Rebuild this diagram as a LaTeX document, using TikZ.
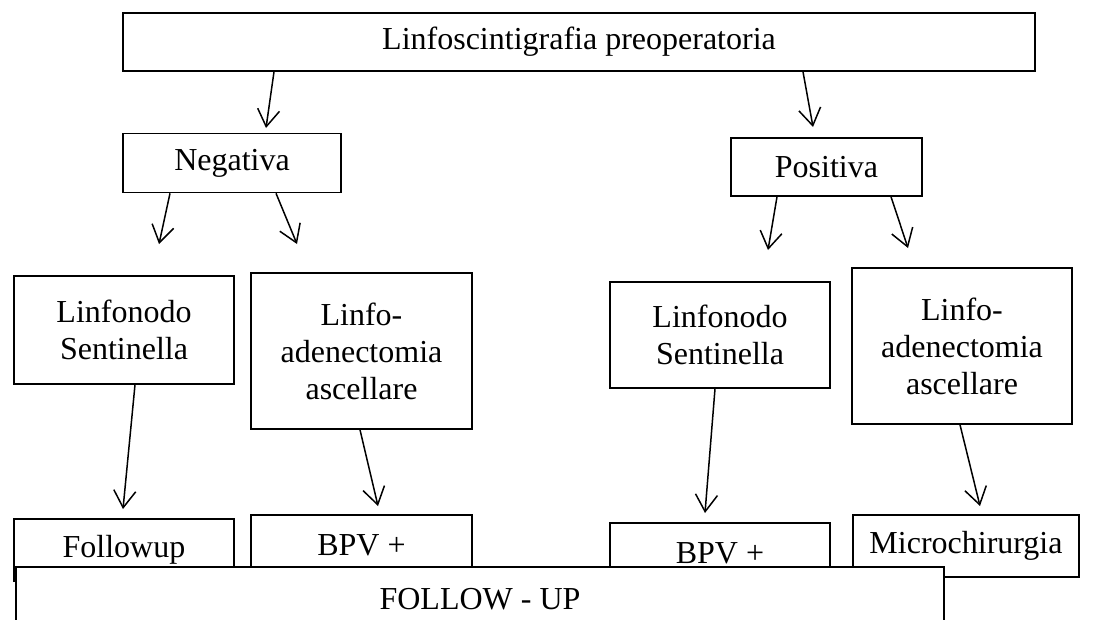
\documentclass[tikz,border=0pt]{standalone}
\usepackage{fontspec}
\setmainfont{Liberation Serif}
\usetikzlibrary{arrows.meta}
\tikzset{
  box/.style={draw=black, line width=1.6pt, fill=white, rectangle, inner sep=0pt,
    align=center, font=\fontsize{32}{37}\selectfont},
  link/.style={line width=1.5pt, -{Straight Barb[length=17pt,width=22pt,line width=1.5pt]}}
}
\begin{document}
\begin{tikzpicture}[x=1pt,y=-1pt]
\useasboundingbox (0,0) rectangle (1099,619);
\clip (0,0) rectangle (1099,619);
\node[box, minimum width=912pt, minimum height=58pt] (top) at (579,42) {Linfoscintigrafia preoperatoria};
\node[box, minimum width=218pt, minimum height=59pt] (neg) at (232,163) {Negativa};
\node[box, minimum width=191pt, minimum height=58pt] (pos) at (826.5,167) {Positiva};
\node[box, minimum width=220pt, minimum height=108pt] (sl) at (124,330) {Linfonodo\\Sentinella};
\node[box, minimum width=221pt, minimum height=156pt] (al) at (361.5,351) {Linfo-\\adenectomia\\ascellare};
\node[box, minimum width=220pt, minimum height=106pt] (sr) at (720,335) {Linfonodo\\Sentinella};
\node[box, minimum width=220pt, minimum height=156pt] (ar) at (962,346) {Linfo-\\adenectomia\\ascellare};
\node[box, minimum width=220pt, minimum height=62pt] (fu) at (124,550) {Followup};
\node[box, minimum width=221pt, minimum height=60pt] (bl) at (361.5,545) {BPV +};
\node[box, minimum width=220pt, minimum height=60pt] (br) at (720,553) {BPV +};
\node[box, minimum width=226pt, minimum height=62pt] (mi) at (966,546) {Microchirurgia};
% arrow end points
\coordinate (e1) at (266,128);
\coordinate (e2) at (813,127);
\coordinate (e3) at (159,244);
\coordinate (e4) at (297,244);
\coordinate (e5) at (768,250);
\coordinate (e6) at (908,248);
\coordinate (e7) at (123,509);
\coordinate (e8) at (378,506);
\coordinate (e9) at (705,513);
\coordinate (e10) at (980,506);
% arrows
\draw[link] (top.south -| 274,0) -- (e1);
\draw[link] (top.south -| 803,0) -- (e2);
\draw[link] (neg.south -| 170,0) -- (e3);
\draw[link] (neg.south -| 276,0) -- (e4);
\draw[link] (pos.south -| 777,0) -- (e5);
\draw[link] (pos.south -| 891,0) -- (e6);
\draw[link] (sl.south -| 135,0) -- (e7);
\draw[link] (al.south -| 360,0) -- (e8);
\draw[link] (sr.south -| 715,0) -- (e9);
\draw[link] (ar.south -| 960,0) -- (e10);
\node[box, minimum width=928pt, minimum height=64pt] (fw) at (480,599) {FOLLOW - UP};
\end{tikzpicture}
\end{document}
